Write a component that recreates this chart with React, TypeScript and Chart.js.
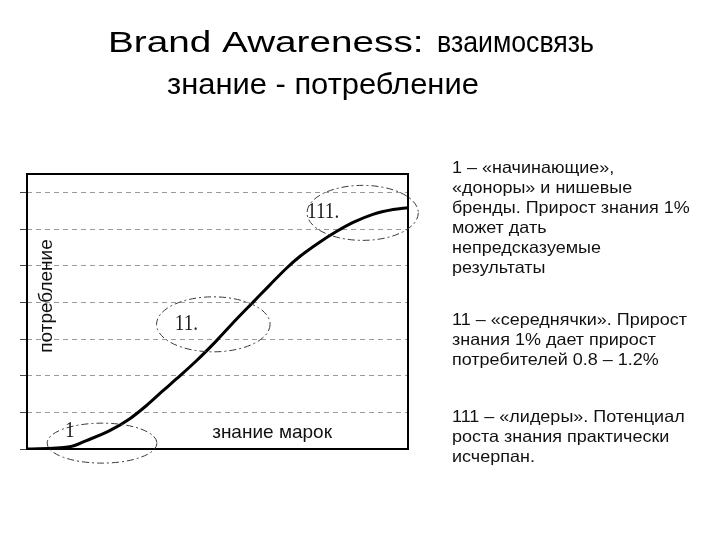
import React, { useEffect, useRef } from "react";
import { Chart, registerables } from "chart.js";

Chart.register(...registerables);

// ---- data ----
const titleLatin = "Brand Awareness:";
const titleCyr = "взаимосвязь";
const titleLine2 = "знание - потребление";
const awareness = [0, 11.2, 15.6, 21.7, 26.9, 31.3, 35.7, 39.2, 44.4, 49.7, 54.9, 59.3, 63.7, 68.1, 71.6, 76.8, 81.2, 85.6, 90.8, 96.1, 100];
const consumption = [0, 0.06, 0.23, 0.5, 0.82, 1.18, 1.59, 1.91, 2.4, 2.95, 3.53, 4.0, 4.47, 4.93, 5.25, 5.64, 5.93, 6.18, 6.4, 6.53, 6.58];
const yTicks = [0, 1, 2, 3, 4, 5, 6, 7];
const xMin = 0;
const xMax = 100;
const yMin = 0;
const yMax = 7.5;

const segmentLabels = ["1", "11.", "111."];
const labelX = [10.0, 38.8, 73.5];
const labelY = [0.33, 3.24, 6.29];

const ellipseCx = [19.7, 48.9, 88.1];
const ellipseCy = [0.16, 3.4, 6.44];
const ellipseRx = [14.4, 14.9, 14.6];
const ellipseRy = [0.545, 0.75, 0.75];

const xAxisTitle = "знание марок";
const xAxisTitleAt = [48.6, 0.3];
const yAxisTitle = "потребление";

const note1 = [
  "1 – «начинающие»,",
  "«доноры» и нишевые",
  "бренды. Прирост знания 1%",
  "может дать",
  "непредсказуемые",
  "результаты",
];
const note2 = [
  "11 – «середнячки». Прирост",
  "знания 1% дает прирост",
  "потребителей 0.8 – 1.2%",
];
const note3 = [
  "111 – «лидеры». Потенциал",
  "роста знания практически",
  "исчерпан.",
];

const SANS = '"Liberation Sans", Arial, sans-serif';
const SERIF = '"Liberation Serif", "Times New Roman", serif';

function scaledText(ctx: CanvasRenderingContext2D, text: string, x: number, y: number, sx: number) {
  ctx.save();
  ctx.translate(x, y);
  ctx.scale(sx, 1);
  ctx.fillText(text, 0, 0);
  ctx.restore();
}

const decorPlugin = {
  id: "decor",
  beforeDatasetsDraw(chart: any) {
    const { ctx, chartArea } = chart;
    ctx.save();
    ctx.strokeStyle = "#000";
    ctx.lineWidth = 2;
    ctx.strokeRect(chartArea.left, chartArea.top, chartArea.right - chartArea.left, chartArea.bottom - chartArea.top);
    ctx.restore();
  },
  afterDraw(chart: any) {
    const { ctx, chartArea } = chart;
    const xs = chart.scales.x;
    const ys = chart.scales.y;
    ctx.save();

    // title
    ctx.fillStyle = "#000";
    ctx.font = `30px ${SANS}`;
    ctx.textAlign = "left";
    ctx.textBaseline = "alphabetic";
    scaledText(ctx, titleLatin, 108, 52, 1.29);
    scaledText(ctx, titleCyr, 437, 52, 0.89);
    scaledText(ctx, titleLine2, 167, 94, 1.03);

    // ellipses
    ctx.strokeStyle = "#3a3a3a";
    ctx.lineWidth = 1;
    ctx.setLineDash([7, 3, 2, 3]);
    for (let i = 0; i < ellipseCx.length; i++) {
      const cx = xs.getPixelForValue(ellipseCx[i]);
      const cy = ys.getPixelForValue(ellipseCy[i]);
      const rx = Math.abs(xs.getPixelForValue(ellipseCx[i] + ellipseRx[i]) - cx);
      const ry = Math.abs(ys.getPixelForValue(ellipseCy[i] + ellipseRy[i]) - cy);
      ctx.beginPath();
      ctx.ellipse(cx, cy, rx, ry, 0, 0, Math.PI * 2);
      ctx.stroke();
    }
    ctx.setLineDash([]);

    // segment labels (serif, condensed)
    ctx.fillStyle = "#222";
    ctx.font = `24px ${SERIF}`;
    ctx.textAlign = "left";
    for (let i = 0; i < segmentLabels.length; i++) {
      const px = xs.getPixelForValue(labelX[i]);
      const py = ys.getPixelForValue(labelY[i]);
      scaledText(ctx, segmentLabels[i], px, py, 0.8);
    }

    // axis titles inside the frame
    ctx.fillStyle = "#111";
    ctx.font = `19px ${SANS}`;
    ctx.textAlign = "left";
    ctx.fillText(xAxisTitle, xs.getPixelForValue(xAxisTitleAt[0]), ys.getPixelForValue(xAxisTitleAt[1]));

    ctx.save();
    ctx.translate(chartArea.left + 25, chartArea.top + 122);
    ctx.rotate(-Math.PI / 2);
    ctx.textAlign = "center";
    ctx.fillText(yAxisTitle, 0, 0);
    ctx.restore();

    // notes on the right
    ctx.fillStyle = "#111";
    ctx.font = `16.5px ${SANS}`;
    ctx.textAlign = "left";
    const noteX = 452;
    const paras = [note1, note2, note3];
    const paraY = [173, 325, 422];
    paras.forEach((p, pi) => {
      p.forEach((line, li) => scaledText(ctx, line, noteX, paraY[pi] + li * 20, 1.09));
    });

    ctx.restore();
  },
};

export default function App() {
  const ref = useRef<HTMLCanvasElement | null>(null);

  useEffect(() => {
    if (!ref.current) return;
    const chart = new Chart(ref.current, {
      type: "line",
      data: {
        datasets: [
          {
            data: awareness.map((x, i) => ({ x, y: consumption[i] })),
            borderColor: "#000",
            borderWidth: 3,
            pointRadius: 0,
            cubicInterpolationMode: "monotone",
            fill: false,
          },
        ],
      },
      options: {
        responsive: false,
        animation: false,
        events: [],
        layout: { padding: { left: 20, top: 174, right: 312, bottom: 91 } },
        plugins: {
          legend: { display: false },
          title: { display: false },
          tooltip: { enabled: false },
        },
        scales: {
          x: {
            type: "linear",
            min: xMin,
            max: xMax,
            display: false,
          },
          y: {
            type: "linear",
            min: yMin,
            max: yMax,
            afterBuildTicks: (scale: any) => {
              scale.ticks = yTicks.map((v) => ({ value: v }));
            },
            ticks: { display: false },
            border: { display: false, dash: [5, 4] },
            grid: {
              color: "#9a9a9a",
              lineWidth: 1,
              drawTicks: true,
              tickLength: 7,
              tickColor: "#444",
              tickBorderDash: [],
            },
          },
        },
      },
      plugins: [decorPlugin],
    });
    return () => chart.destroy();
  }, []);

  return (
    <div style={{ position: "absolute", left: 0, top: 0, width: 720, height: 540, background: "#fff" }}>
      <canvas ref={ref} width={720} height={540} style={{ display: "block" }} />
    </div>
  );
}
